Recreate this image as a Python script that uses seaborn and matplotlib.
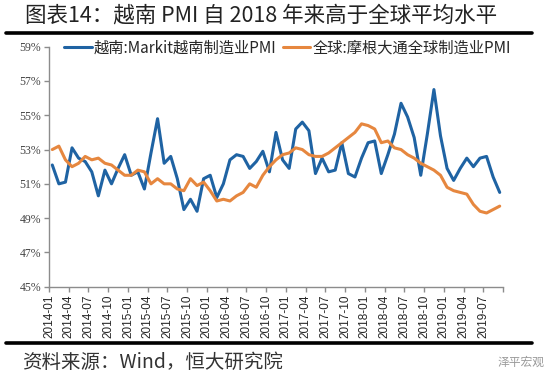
import numpy as np
import pandas as pd
import matplotlib
matplotlib.use("Agg")
import matplotlib.pyplot as plt
from matplotlib.lines import Line2D
import seaborn as sns

# -------------------------------
# Data (monthly PMI, 2014-01 .. 2019-09)
# -------------------------------
months = pd.date_range("2014-01-01", "2019-09-01", freq="MS").strftime("%Y-%m").tolist()

vietnam_pmi = [
    52.1, 51.0, 51.1, 53.1, 52.5, 52.3, 51.7, 50.3, 51.8, 51.0, 51.9, 52.7,  # 2014
    51.5, 51.7, 50.7, 52.8, 54.8, 52.2, 52.6, 51.3, 49.5, 50.1, 49.4, 51.3,  # 2015
    51.5, 50.2, 51.0, 52.4, 52.7, 52.6, 51.9, 52.3, 52.9, 51.7, 54.0, 52.4,  # 2016
    51.9, 54.2, 54.6, 54.1, 51.6, 52.5, 51.7, 51.8, 53.4, 51.6, 51.4, 52.5,  # 2017
    53.4, 53.5, 51.6, 52.7, 53.9, 55.7, 54.9, 53.7, 51.5, 53.9, 56.5, 53.8,  # 2018
    51.9, 51.2, 51.9, 52.5, 52.0, 52.5, 52.6, 51.4, 50.5,                    # 2019
]

global_pmi = [
    53.0, 53.2, 52.4, 52.0, 52.2, 52.6, 52.4, 52.5, 52.2, 52.1, 51.8, 51.5,  # 2014
    51.5, 51.8, 51.7, 51.0, 51.3, 51.0, 51.0, 50.7, 50.6, 51.3, 50.9, 51.1,  # 2015
    50.6, 50.0, 50.1, 50.0, 50.3, 50.5, 51.0, 50.8, 51.5, 52.0, 52.4, 52.7,  # 2016
    52.8, 53.1, 53.0, 52.7, 52.6, 52.6, 52.8, 53.1, 53.4, 53.7, 54.0, 54.5,  # 2017
    54.4, 54.2, 53.4, 53.5, 53.1, 53.0, 52.7, 52.5, 52.2, 52.0, 51.8, 51.5,  # 2018
    50.8, 50.6, 50.5, 50.4, 49.8, 49.4, 49.3, 49.5, 49.7,                    # 2019
]

tick_labels = ["2014-01", "2014-04", "2014-07", "2014-10",
               "2015-01", "2015-04", "2015-07", "2015-10",
               "2016-01", "2016-04", "2016-07", "2016-10",
               "2017-01", "2017-04", "2017-07", "2017-10",
               "2018-01", "2018-04", "2018-07", "2018-10",
               "2019-01", "2019-04", "2019-07"]

y_ticks = [45, 47, 49, 51, 53, 55, 57, 59]

label_vn = "越南:Markit越南制造业PMI"
label_gl = "全球:摩根大通全球制造业PMI"

# -------------------------------
# Build table (points sit in the middle of each month slot)
# -------------------------------
df = pd.DataFrame({
    "month": months,
    "pos": np.arange(len(months)) + 0.5,
    label_vn: vietnam_pmi,
    label_gl: global_pmi,
})

# -------------------------------
# Plot
# -------------------------------
sns.set_style("white")
plt.rcParams["font.family"] = ["Noto Sans CJK SC", "DejaVu Sans"]

blue = "#1f63a3"
orange = "#e6873f"

fig = plt.figure(figsize=(5.5, 3.83), dpi=100)
ax = fig.add_axes([49 / 550, 1 - 286.7 / 383, (503 - 49) / 550, (286.7 - 46.7) / 383])

sns.lineplot(data=df, x="pos", y=label_vn, ax=ax, color=blue, lw=2.2,
             label=label_vn, solid_joinstyle="round", solid_capstyle="round")
sns.lineplot(data=df, x="pos", y=label_gl, ax=ax, color=orange, lw=2.2,
             label=label_gl, solid_joinstyle="round", solid_capstyle="round")

ax.set_xlim(0, len(months))
ax.set_ylim(45, 59)
ax.set_xlabel("")
ax.set_ylabel("")

xt = np.arange(0, len(months) + 1, 3)
ax.set_xticks(xt)
ax.set_xticklabels(tick_labels + [""] * (len(xt) - len(tick_labels)),
                   rotation=90, fontsize=8.5, family="Liberation Sans")
ax.set_yticks(y_ticks)
ax.set_yticklabels([f"{v}%" for v in y_ticks], fontsize=8.5, family="Liberation Serif",
                   color="#444444")

for s in ["top", "right"]:
    ax.spines[s].set_visible(False)
for s in ["left", "bottom"]:
    ax.spines[s].set_color("#8c8c8c")
    ax.spines[s].set_linewidth(1.0)
ax.tick_params(axis="both", direction="out", length=3.5, width=1.0, color="#8c8c8c",
               left=True, bottom=True, pad=2)

ax.get_legend().remove()
fig.legend(handles=ax.get_lines()[:2], labels=[label_vn, label_gl],
           loc="center left", bbox_to_anchor=(64 / 550, 1 - 48 / 383),
           ncol=2, frameon=False, fontsize=11, handlelength=1.8,
           handletextpad=0.15, columnspacing=0.4, borderaxespad=0, borderpad=0)

# -------------------------------
# Title, rules, source
# -------------------------------
fig.text(25 / 550, 1 - 15 / 383, "图表14：越南 PMI 自 2018 年来高于全球平均水平",
         fontsize=15.5, ha="left", va="center", color="#222222", fontweight="light")
fig.add_artist(Line2D([6 / 550, 532 / 550], [1 - 33 / 383] * 2, color="black", lw=2.6))
fig.add_artist(Line2D([6 / 550, 532 / 550], [1 - 343 / 383] * 2, color="black", lw=2.6))
fig.text(22 / 550, 1 - 362 / 383, "资料来源：Wind，恒大研究院",
         fontsize=14, ha="left", va="center", color="#333333", fontweight="light")
fig.text(545 / 550, 1 - 362 / 383, "泽平宏观",
         fontsize=8.5, ha="right", va="center", color="#9a9a9a")

fig.savefig("out.png", dpi=100)
